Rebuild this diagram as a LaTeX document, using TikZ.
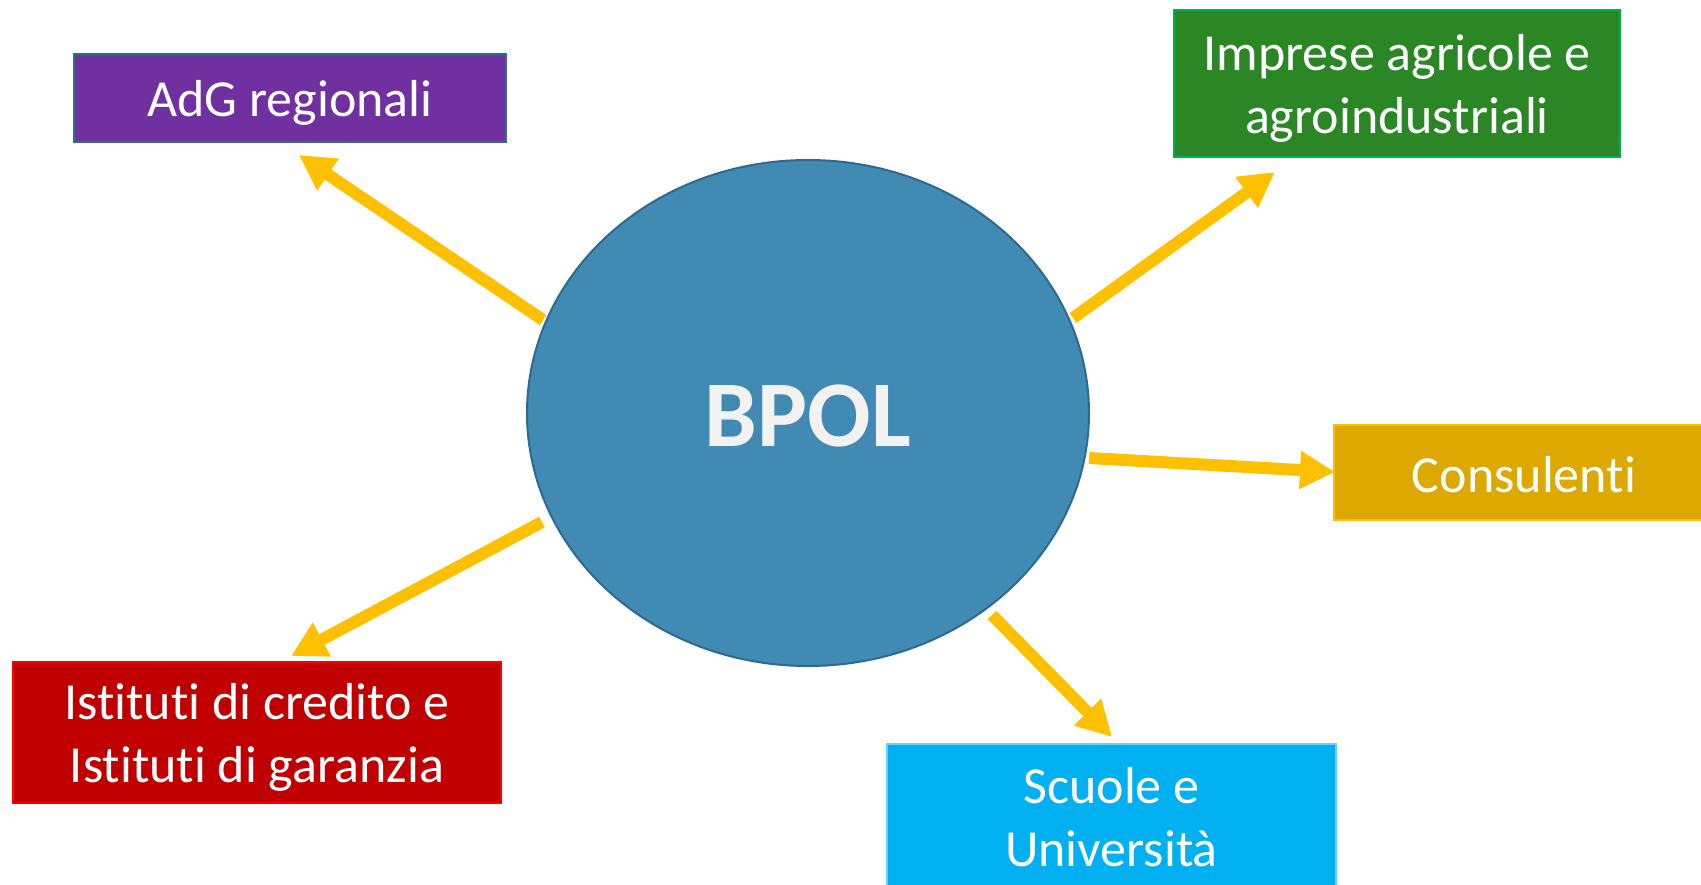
\documentclass[tikz,border=0pt]{standalone}
\usepackage{fontspec}
\setmainfont{Carlito}[RawFeature=-liga]
\usetikzlibrary{arrows.meta,shapes.geometric}
\definecolor{adgfill}{HTML}{7030A0}
\definecolor{adgdraw}{HTML}{2F6C87}
\definecolor{impfill}{HTML}{2B8726}
\definecolor{impdraw}{HTML}{00B050}
\definecolor{confill}{HTML}{DDA800}
\definecolor{condraw}{HTML}{FFC000}
\definecolor{istfill}{HTML}{C00000}
\definecolor{istdraw}{HTML}{FF0000}
\definecolor{scufill}{HTML}{00B0F0}
\definecolor{scudraw}{HTML}{6CCFF4}
\definecolor{bpolfill}{HTML}{418AB3}
\definecolor{bpoldraw}{HTML}{2E6A90}
\definecolor{arrowc}{HTML}{FFC000}
\definecolor{bpoltext}{HTML}{F2F2F2}
\begin{document}
\begin{tikzpicture}[x=1pt,y=-1pt,
  box/.style={rectangle, draw, line width=2.5pt, inner sep=0pt},
  txt/.style={text=white, inner sep=0pt, font=\fontsize{52}{63}\selectfont, align=center},
  arr/.style={draw=arrowc, line width=12pt, -{Triangle[width=36pt,length=35pt]}}]
\useasboundingbox (0,0) rectangle (1701,884);
\fill[white] (0,0) rectangle (1701,884);
\node[ellipse, draw=bpoldraw, fill=bpolfill, line width=2pt, minimum width=562pt, minimum height=506pt, inner sep=0pt] (bpol) at (808,413) {};
\node[text=bpoltext, inner sep=0pt, font=\fontsize{94}{100}\selectfont\bfseries] (bpolt) at ([yshift=-3pt]bpol.center) {BPOL};
\node[box, fill=adgfill, draw=adgdraw, minimum width=432pt, minimum height=88pt] (adg) at (290,98) {};
\node[txt] (adgt) at ([yshift=-5pt]adg.center) {AdG regionali};
\node[box, fill=impfill, draw=impdraw, minimum width=446pt, minimum height=147pt] (imp) at (1397,83.5) {};
\node[txt] (impt) at ([yshift=-5pt]imp.center) {Imprese agricole e\\agroindustriali};
\node[box, fill=confill, draw=condraw, minimum width=380pt, minimum height=95pt] (con) at (1524,472.5) {};
\node[txt] (cont) at ([yshift=-2pt]con.center) {Consulenti};
\node[box, fill=istfill, draw=istdraw, minimum width=488pt, minimum height=141pt] (ist) at (257,732.5) {};
\node[txt] (istt) at ([yshift=-5pt]ist.center) {Istituti di credito e\\Istituti di garanzia};
\node[box, fill=scufill, draw=scudraw, minimum width=449pt, minimum height=146pt] (scu) at (1111.5,817) {};
\node[txt] (scut) at (scu.center) {Scuole e\\Università};
\coordinate (t1) at (543,320); \coordinate (h1) at (299,155);
\coordinate (t2) at (1073,318); \coordinate (h2) at (1275,172);
\coordinate (t3) at (1089,458); \coordinate (h3) at (1335,472);
\coordinate (t4) at (542,522); \coordinate (h4) at (291,656);
\coordinate (t5) at (992,615); \coordinate (h5) at (1112,737);
\draw[arr] (t1) -- (h1);
\draw[arr] (t2) -- (h2);
\draw[arr] (t3) -- (h3);
\draw[arr] (t4) -- (h4);
\draw[arr] (t5) -- (h5);
\end{tikzpicture}
\end{document}
